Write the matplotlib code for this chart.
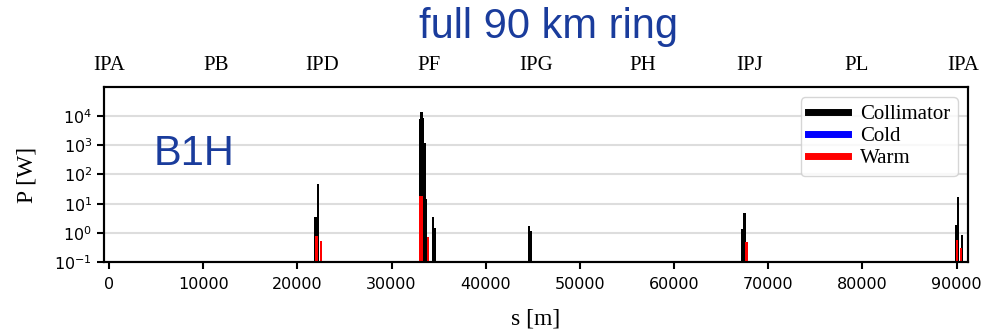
import matplotlib
matplotlib.use("Agg")
import matplotlib.pyplot as plt
import matplotlib.ticker as ticker
import numpy as np

# ring layout
ring_length = 90700.0
ip_names = ['IPA', 'PB', 'IPD', 'PF', 'IPG', 'PH', 'IPJ', 'PL', 'IPA']

# power deposited per element type, s [m] and P [W]
coll_s = [21950, 22200, 33030, 33180, 33330, 33480, 33600, 34400, 34600,
          44600, 44780, 67260, 67450, 89980, 90120, 90550]
coll_p = [3.4, 48, 8000, 13500, 9000, 1200, 14, 3.5, 1.45,
          1.7, 1.2, 1.4, 4.6, 1.9, 17, 0.83]

cold_s = []
cold_p = []

warm_s = [22030, 22500, 33080, 33230, 33850, 45100, 67660, 90060, 90450]
warm_p = [0.8, 0.53, 18, 18, 0.73, 0.11, 0.49, 0.56, 0.3]

serif = 'Liberation Serif'

fig = plt.figure(figsize=(9.83, 3.34), dpi=100)
ax = fig.add_axes([0.1058, 0.2156, 0.8789, 0.5239])

w = 270
ax.bar(coll_s, coll_p, width=w, color='black', linewidth=0, zorder=3)
ax.bar(cold_s, cold_p, width=w, color='blue', linewidth=0, zorder=4)
ax.bar(warm_s, warm_p, width=w, color='red', linewidth=0, zorder=5)

ax.set_yscale('log')
ax.set_ylim(0.1, 1e5)
ax.set_xlim(-530, 91200)
ax.yaxis.set_major_locator(ticker.FixedLocator([1e-1, 1, 1e1, 1e2, 1e3, 1e4]))
ax.yaxis.set_minor_locator(ticker.NullLocator())
ax.set_xticks(np.arange(0, 90001, 10000))
ax.tick_params(axis='both', labelsize=11.5, length=5, width=1.5, direction='out')
ax.tick_params(axis='x', pad=6)
ax.grid(axis='y', color='#dddddd', linewidth=1.5, zorder=0)
ax.set_axisbelow(True)
for sp in ax.spines.values():
    sp.set_linewidth(1.5)

ax.set_xlabel('s [m]', fontsize=17, family=serif, labelpad=12)
ax.set_ylabel('P [W]', fontsize=17, family=serif, labelpad=12)

# legend handles as thick lines
ax.plot([], [], color='black', lw=5, label='Collimator')
ax.plot([], [], color='blue', lw=5, label='Cold')
ax.plot([], [], color='red', lw=5, label='Warm')
ax.legend(loc='upper right', prop={'family': serif, 'size': 15},
          labelspacing=0.12, borderpad=0.35, handlelength=1.9,
          handletextpad=0.6, fancybox=True)

# IP markers on the top axis
top = ax.twiny()
top.set_xlim(ax.get_xlim())
top.set_xticks(np.arange(len(ip_names)) * ring_length / 8)
top.set_xticklabels(ip_names, family=serif, fontsize=15)
top.tick_params(axis='x', length=0, pad=9)
for sp in top.spines.values():
    sp.set_linewidth(1.5)

ax.text(0.058, 0.62, 'B1H', transform=ax.transAxes, fontsize=30,
        family='Liberation Sans', color='#1a3c9c', va='center')
fig.text(0.5575, 0.918, 'full 90 km ring', fontsize=30,
         family='Liberation Sans', color='#1a3c9c', ha='center', va='center')

fig.savefig('out.png', dpi=100)
